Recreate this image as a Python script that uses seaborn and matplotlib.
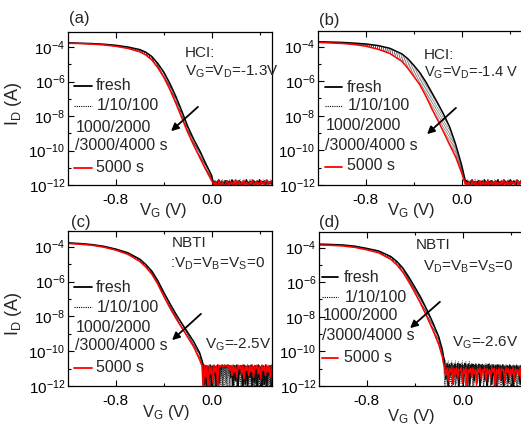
import numpy as np
import pandas as pd
import matplotlib
matplotlib.use('Agg')
import matplotlib.pyplot as plt
import seaborn as sns
from matplotlib.lines import Line2D
from matplotlib.ticker import FixedLocator, FixedFormatter, NullFormatter

sns.set_style('ticks')
plt.rcParams['font.family'] = ['Liberation Sans', 'DejaVu Sans']
plt.rcParams['mathtext.fontset'] = 'custom'
plt.rcParams['mathtext.rm'] = 'Liberation Sans'
plt.rcParams['mathtext.it'] = 'Liberation Sans:italic'
plt.rcParams['mathtext.bf'] = 'Liberation Sans:bold'
plt.rcParams['mathtext.default'] = 'regular'

# ---------------- data (log10 of I_D in A vs V_G in V) ----------------
stress_labels = ['fresh', '1 s', '10 s', '100 s', '1000 s', '2000 s', '3000 s', '4000 s', '5000 s']
# relative position of the dotted (intermediate) curves between fresh and 5000 s
dotted_weights = [0.12, 0.25, 0.38, 0.50, 0.62, 0.74, 0.86]

# (a) HCI VG=VD=-1.3V
Va = [-1.2, -1.1, -1.0, -0.9, -0.8, -0.7, -0.6, -0.55, -0.5, -0.45, -0.4, -0.35, -0.3, -0.25, -0.2, -0.15, -0.1, -0.05, 0.0]
fresh_a = [-3.76, -3.78, -3.80, -3.84, -3.90, -4.00, -4.15, -4.30, -4.55, -4.95, -5.45, -6.10, -6.85, -7.70, -8.60, -9.35, -10.00, -10.75, -11.45]
red_a = [-3.78, -3.80, -3.83, -3.88, -3.96, -4.08, -4.28, -4.46, -4.75, -5.20, -5.75, -6.45, -7.25, -8.10, -8.95, -9.70, -10.40, -11.10, -11.75]

# (b) HCI VG=VD=-1.4V
Vb = [-1.2, -1.1, -1.0, -0.9, -0.8, -0.7, -0.6, -0.5, -0.45, -0.4, -0.35, -0.3, -0.25, -0.2, -0.15, -0.1, -0.05, 0.0, 0.03]
fresh_b = [-3.72, -3.74, -3.76, -3.80, -3.85, -3.94, -4.10, -4.42, -4.70, -5.08, -5.50, -6.03, -6.65, -7.27, -7.92, -8.65, -9.65, -10.85, -11.75]
red_b = [-3.76, -3.79, -3.82, -3.88, -3.98, -4.15, -4.40, -4.85, -5.25, -5.72, -6.20, -6.85, -7.58, -8.25, -8.95, -9.68, -10.38, -11.30, -11.95]

# (c) NBTI VG=-2.5V
Vc = [-1.2, -1.1, -1.0, -0.9, -0.8, -0.7, -0.6, -0.55, -0.5, -0.45, -0.4, -0.35, -0.3, -0.25, -0.2, -0.15, -0.1, -0.08]
fresh_c = [-3.78, -3.82, -3.88, -3.98, -4.14, -4.35, -4.72, -5.02, -5.40, -5.95, -6.62, -7.25, -7.85, -8.40, -8.92, -9.45, -10.10, -10.55]
red_c = [-3.82, -3.86, -3.92, -4.03, -4.20, -4.44, -4.85, -5.17, -5.58, -6.15, -6.85, -7.50, -8.10, -8.65, -9.20, -9.75, -10.50, -10.85]

# (d) NBTI VG=-2.6V
Vd = [-1.2, -1.1, -1.0, -0.9, -0.8, -0.7, -0.6, -0.55, -0.5, -0.45, -0.4, -0.35, -0.3, -0.25, -0.2, -0.17, -0.16]
fresh_d = [-3.80, -3.82, -3.85, -3.92, -4.05, -4.20, -4.52, -4.80, -5.18, -5.70, -6.28, -6.88, -7.58, -8.32, -9.15, -9.90, -10.30]
red_d = [-3.85, -3.87, -3.91, -3.99, -4.13, -4.31, -4.68, -5.00, -5.42, -5.98, -6.60, -7.25, -7.98, -8.75, -9.60, -10.30, -10.70]

# noise floors (log10 I) beyond the subthreshold region
floor_hci_black = [-11.75, -11.90, -11.80, -12.00, -11.85, -11.70, -11.95, -11.90, -11.80, -12.05, -11.85, -11.75, -11.95, -11.90, -11.80, -11.95, -11.70, -11.90, -12.00, -11.85, -11.80, -11.95, -11.75, -11.90, -11.85, -12.00, -11.80, -11.90, -11.70, -11.95, -11.85, -11.80, -12.00, -11.90, -11.75, -11.85, -11.95, -11.80, -11.90, -11.70, -11.95, -11.85, -11.80, -11.90, -12.00, -11.75, -11.85, -11.90, -11.80, -11.95]
floor_hci_red = [-11.85, -12.05, -11.80, -11.95, -12.10, -11.75, -11.90, -12.00, -11.80, -11.95, -12.10, -11.85, -11.75, -12.00, -11.90, -11.80, -12.05, -11.85, -11.95, -11.70, -12.00, -11.90, -11.80, -12.10, -11.85, -11.95, -11.75, -12.00, -11.85, -11.90, -12.05, -11.80, -11.95, -11.70, -11.90, -12.00, -11.80, -11.95, -11.85, -12.10, -11.75, -11.90, -11.85, -12.00, -11.80, -11.70, -11.95, -11.85, -11.90, -11.75]
floor_c_black = [-10.80, -11.90, -10.85, -12.30, -10.90, -11.60, -10.80, -12.20, -10.85, -11.40, -10.90, -12.30, -10.80, -11.80, -10.85, -11.00, -10.80, -10.90, -10.85, -10.95, -10.80, -10.90, -10.85, -11.50, -10.90, -12.30, -10.85, -11.70, -10.80, -12.20, -10.90, -11.30, -10.85, -12.30, -10.80, -11.90, -10.90, -12.10, -10.85, -11.50, -10.80, -12.30, -10.90, -11.80, -10.85, -12.20, -10.80, -11.60, -10.90, -12.30, -10.85, -11.90, -10.80, -12.10, -10.90, -11.40, -10.85, -12.30]
floor_c_red = [-12.30, -10.80, -11.50, -10.85, -12.20, -10.80, -11.30, -10.90, -11.80, -10.80, -11.20, -10.85, -12.10, -10.80, -10.90, -10.85, -10.80, -10.90, -10.80, -10.85, -10.90, -10.80, -11.10, -10.85, -11.40, -10.80, -11.20, -10.90, -11.50, -10.80, -11.00, -10.85, -11.30, -10.80, -11.60, -10.90, -11.10, -10.80, -11.40, -10.85, -11.20, -10.80, -11.50, -10.90, -11.00, -10.80, -11.30, -10.85, -11.60, -10.80, -11.10, -10.90, -11.40, -10.80, -11.20, -10.85, -11.50, -10.80]
floor_d_black = [-10.55, -11.60, -10.70, -12.20, -10.75, -11.30, -10.70, -11.90, -10.80, -10.75, -11.50, -10.70, -12.30, -10.75, -11.20, -10.80, -11.80, -10.70, -10.85, -11.40, -10.75, -12.10, -10.80, -11.00, -10.75, -11.70, -10.80, -10.90, -11.30, -10.75, -12.20, -10.80, -11.10, -10.85, -11.60, -10.80, -12.30, -10.75, -11.20, -10.85, -11.90, -10.80, -11.40, -10.85, -12.00, -10.80, -11.10, -10.85, -11.70, -10.80, -12.20, -10.90, -11.30, -10.85, -11.80, -10.80, -11.00, -10.90, -12.10, -10.85, -11.50, -10.80, -11.20, -10.90, -11.90, -10.85, -11.40]
floor_d_red = [-10.90, -11.40, -10.95, -11.70, -11.00, -11.20, -10.90, -11.90, -11.00, -11.30, -10.95, -11.60, -11.05, -11.10, -10.95, -11.80, -11.00, -11.30, -10.95, -12.10, -11.05, -11.20, -11.00, -11.50, -10.95, -11.30, -11.05, -11.90, -11.00, -11.20, -10.95, -11.60, -11.05, -11.10, -10.95, -11.70, -11.00, -11.30, -11.05, -11.50, -10.95, -11.20, -11.00, -12.20, -11.05, -11.30, -10.95, -11.60, -11.00, -11.10, -11.05, -11.80, -10.95, -11.20, -11.00, -11.50, -11.05, -11.30, -10.95, -11.70, -11.00, -11.20, -11.05, -11.40, -10.95, -11.60, -11.00]

x_tick_labels = ['-0.8', '0.0']
y_tick_exps = [-12, -10, -8, -6, -4]

panels = [
    dict(tag='(a)', V=Va, fresh=fresh_a, red=red_a, fstart=0.01, fb=floor_hci_black, fr=floor_hci_red),
    dict(tag='(b)', V=Vb, fresh=fresh_b, red=red_b, fstart=0.04, fb=floor_hci_black, fr=floor_hci_red),
    dict(tag='(c)', V=Vc, fresh=fresh_c, red=red_c, fstart=-0.07, fb=floor_c_black, fr=floor_c_red),
    dict(tag='(d)', V=Vd, fresh=fresh_d, red=red_d, fstart=-0.15, fb=floor_d_black, fr=floor_d_red),
]


def build_frame(p):
    V = np.array(p['V'])
    fr = np.array(p['fresh'])
    rd = np.array(p['red'])
    fb = np.array(p['fb'])
    frd = np.array(p['fr'])
    Vf = np.linspace(p['fstart'], 0.5, len(fb))
    Vfr = np.linspace(p['fstart'], 0.5, len(frd))
    rows = []
    rows.append(pd.DataFrame({'V': np.r_[V, Vf], 'logI': np.r_[fr, fb], 'curve': stress_labels[0], 'kind': 'fresh'}))
    for k, w in enumerate(dotted_weights):
        main = fr + w * (rd - fr)
        rows.append(pd.DataFrame({'V': np.r_[V, Vf], 'logI': np.r_[main, np.roll(fb, 3 * (k + 1))],
                                  'curve': stress_labels[k + 1], 'kind': 'dotted'}))
    rows.append(pd.DataFrame({'V': np.r_[V, Vfr], 'logI': np.r_[rd, frd], 'curve': stress_labels[-1], 'kind': 'red'}))
    df = pd.concat(rows, ignore_index=True)
    df['I'] = 10.0 ** df['logI']
    return df


# ---------------- layout ----------------
W, H = 521, 425
fig = plt.figure(figsize=(W / 100, H / 100), dpi=100)


def fx(x):
    return x / W


def fy(y):
    return 1 - y / H


def rect(l, t, r, b):
    return [fx(l), fy(b), (r - l) / W, (b - t) / H]


rects = [rect(68, 31.5, 271.5, 185), rect(318, 31, 521.5, 185),
         rect(68, 231, 271.5, 386), rect(319, 232, 522.5, 386)]

DOT = (0, (0.8, 1.8))
axes = []
for p, rc in zip(panels, rects):
    ax = fig.add_axes(rc)
    axes.append(ax)
    df = build_frame(p)
    ax.set_yscale('log')
    sns.lineplot(data=df[df.kind == 'fresh'], x='V', y='I', units='curve', estimator=None, sort=False,
                 color='black', lw=1.1, ax=ax, legend=False)
    sns.lineplot(data=df[df.kind == 'dotted'], x='V', y='I', units='curve', estimator=None, sort=False,
                 color='0.1', lw=0.55, linestyle=DOT, ax=ax, legend=False)
    sns.lineplot(data=df[df.kind == 'red'], x='V', y='I', units='curve', estimator=None, sort=False,
                 color='#ff0000', lw=1.1, ax=ax, legend=False)
    ax.set_xlim(-1.2, 0.5)
    ax.set_ylim(1e-12, 10 ** -3.1)
    ax.xaxis.set_major_locator(FixedLocator([-0.8, 0.0]))
    ax.xaxis.set_major_formatter(FixedFormatter(x_tick_labels))
    ax.xaxis.set_minor_locator(FixedLocator([-0.4, 0.4]))
    ax.yaxis.set_major_locator(FixedLocator([10.0 ** e for e in y_tick_exps]))
    ax.yaxis.set_major_formatter(FixedFormatter([r'$10^{%d}$' % e for e in y_tick_exps]))
    ax.yaxis.set_minor_locator(FixedLocator([10.0 ** e for e in [-11, -9, -7, -5]]))
    ax.yaxis.set_minor_formatter(NullFormatter())
    ax.tick_params(which='both', direction='in', top=True, right=False, labelsize=11, colors='black')
    ax.tick_params(which='major', length=4, width=0.8)
    ax.tick_params(which='minor', length=2, width=0.8)
    ax.tick_params(axis='x', pad=6)
    ax.tick_params(axis='y', pad=2)
    for s in ax.spines.values():
        s.set_visible(True)
        s.set_color('black')
        s.set_linewidth(0.9)
    ax.set_xlabel('')
    ax.set_ylabel('')

FS = 11.5
FA = 11


def T(x, y, s, size=FS, ha='left', **kw):
    fig.text(fx(x), fy(y), s, fontsize=size, ha=ha, va='center', **kw)


# panel tags
T(69, 19, '(a)', 12)
T(319, 20, '(b)', 12)
T(71, 222, '(c)', 12)
T(319, 223, '(d)', 12)

# axis labels
for x, y in [(163, 210), (411, 210), (166, 413), (411, 416)]:
    T(x, y, r'V$_G$ (V)', 12, ha='center')
for y in [104, 314]:
    fig.text(fx(13), fy(y), r'I$_D$ (A)', fontsize=13, rotation=90, ha='center', va='center')

# annotations
T(185, 53, 'HCI:', FA)
T(185, 72, r'V$_G$=V$_D$=-1.3V', FA)
T(424, 55, 'HCI:', FA)
T(424, 73, r'V$_G$=V$_D$=-1.4 V', 10.5)
T(172, 243, 'NBTI', FA)
T(170, 264, r':V$_D$=V$_B$=V$_S$=0', FA)
T(205, 345, r'V$_G$=-2.5V', FA)
T(416, 245, 'NBTI', FA)
T(423, 267, r'V$_D$=V$_B$=V$_S$=0', FA)
T(452, 343, r'V$_G$=-2.6V', FA)

# legends (drawn manually, like the original)
legend_pos = [  # (line x0, line x1, text x, block x, y fresh, y dotted, y 1000, y 3000, y 5000)
    (74, 92, 96, 76, 86, 106, 127, 146, 167),
    (325, 342, 347, 326, 87, 106, 126, 146, 166),
    (74, 92, 96, 76, 287, 307, 327, 346, 367),
    (322, 338, 344, 323, 277, 297, 316, 335, 357),
]
for (x0, x1, xt, xb, yf, yd, y1, y3, y5) in legend_pos:
    fig.add_artist(Line2D([fx(x0), fx(x1)], [fy(yf), fy(yf)], color='black', lw=1.3, transform=fig.transFigure))
    fig.add_artist(Line2D([fx(x0), fx(x1)], [fy(yd), fy(yd)], color='black', lw=0.8, linestyle=(0, (1, 1)),
                          transform=fig.transFigure))
    fig.add_artist(Line2D([fx(x0), fx(x1)], [fy(y5 + 1), fy(y5 + 1)], color='#ff0000', lw=1.3,
                          transform=fig.transFigure))
    T(xt, yf, 'fresh')
    T(xt + 1, yd, '1/10/100')
    T(xb, y1, '1000/2000')
    T(xb - 1, y3, '/3000/4000 s')
    T(xt, y5, '5000 s')

# arrows (tail -> head) in figure pixels
arrows = [((200, 105), (169, 133)), ((458, 106), (425, 136)), ((203, 312), (170, 342)), ((442, 300), (408, 330))]
for (tx, ty), (hx, hy) in arrows:
    fig.add_artist(matplotlib.patches.FancyArrowPatch((fx(tx), fy(ty)), (fx(hx), fy(hy)),
                                                      transform=fig.transFigure, arrowstyle='-|>',
                                                      mutation_scale=11, color='black', lw=1.3))

fig.savefig('out.png', dpi=100)
